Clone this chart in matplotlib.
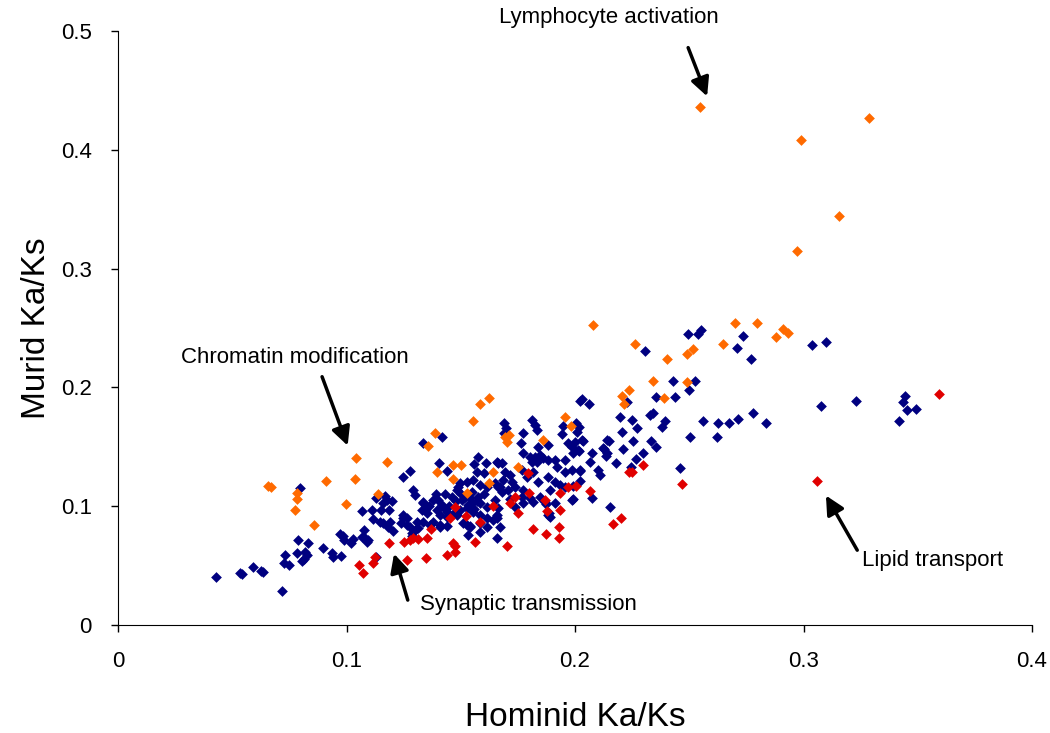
import matplotlib
matplotlib.use('Agg')
import matplotlib.pyplot as plt

plt.rcParams['font.family'] = ['Liberation Sans', 'DejaVu Sans']

# hominid / murid Ka/Ks
orange_x = [0.2547, 0.3288, 0.2989, 0.3157, 0.2973, 0.208, 0.27, 0.2798, 0.288, 0.2649,
            0.2492, 0.2515, 0.2912, 0.2934, 0.2263, 0.2401, 0.2343, 0.2492, 0.2391, 0.2236,
            0.2204, 0.2214, 0.1956, 0.1982, 0.1625, 0.1584, 0.1552, 0.1385, 0.1358, 0.104,
            0.1176, 0.0658, 0.0668, 0.091, 0.1036, 0.0785, 0.0785, 0.0773, 0.0996, 0.0858,
            0.1138, 0.1465, 0.150, 0.1397, 0.1465, 0.1625, 0.1526, 0.1694, 0.1713, 0.1702,
            0.1861, 0.1752, 0.1642]
orange_y = [0.4363, 0.427, 0.4083, 0.344, 0.3148, 0.2523, 0.2545, 0.2545, 0.2422, 0.2365,
            0.2281, 0.2321, 0.2492, 0.2455, 0.2363, 0.2237, 0.2056, 0.2048, 0.1908, 0.1978,
            0.1928, 0.186, 0.1748, 0.1675, 0.1908, 0.1858, 0.1717, 0.1613, 0.1507, 0.141,
            0.137, 0.117, 0.116, 0.121, 0.123, 0.111, 0.106, 0.0965, 0.102, 0.084,
            0.110, 0.1344, 0.1344, 0.129, 0.123, 0.1198, 0.1114, 0.1585, 0.160, 0.1543,
            0.1557, 0.1333, 0.129]

red_x = [0.3593, 0.306, 0.2467, 0.2296, 0.2248, 0.2238, 0.22, 0.2168, 0.2066, 0.2004,
         0.1971, 0.1934, 0.1934, 0.1876, 0.1869, 0.1931, 0.1931, 0.1871, 0.1815, 0.1704,
         0.1749, 0.1796, 0.18, 0.1737, 0.1716, 0.164, 0.1584, 0.1562, 0.1475, 0.1453,
         0.1522, 0.1467, 0.1475, 0.1438, 0.1475, 0.1368, 0.135, 0.1314, 0.1292, 0.1278,
         0.1252, 0.1185, 0.1263, 0.1346, 0.1125, 0.1114, 0.1056, 0.1072]
red_y = [0.1947, 0.121, 0.1187, 0.1344, 0.129, 0.1285, 0.0898, 0.085, 0.113, 0.117,
         0.1159, 0.1108, 0.0968, 0.0958, 0.1052, 0.0822, 0.073, 0.0764, 0.0806, 0.0665,
         0.094, 0.1277, 0.1108, 0.1074, 0.1024, 0.1002, 0.087, 0.0701, 0.0996, 0.0898,
         0.0918, 0.0688, 0.0617, 0.0589, 0.0665, 0.0806, 0.073, 0.0721, 0.073, 0.0716,
         0.0696, 0.0693, 0.055, 0.0561, 0.057, 0.052, 0.0505, 0.044]

blue_x = [0.0798, 0.1246, 0.1168, 0.1176, 0.1198, 0.1129, 0.1069, 0.1112, 0.1152, 0.1185,
          0.1114, 0.1147, 0.1161, 0.119, 0.1183, 0.1205, 0.1237, 0.1249, 0.1263, 0.1075,
          0.1066, 0.1096, 0.103, 0.0986, 0.0972, 0.1018, 0.099, 0.0789, 0.0833, 0.0896,
          0.0935, 0.0942, 0.0976, 0.0782, 0.0826, 0.0804, 0.0814, 0.0731, 0.0728, 0.0748,
          0.0592, 0.0534, 0.0543, 0.0626, 0.0636, 0.0428, 0.0719, 0.1129, 0.1292, 0.130,
          0.1249, 0.1263, 0.1278, 0.130, 0.1285, 0.1307, 0.1336, 0.1329, 0.135, 0.1336,
          0.1314, 0.0818, 0.1081, 0.1089, 0.1161, 0.1336, 0.1278, 0.1406, 0.1438, 0.1574,
          0.156, 0.1573, 0.1603, 0.161, 0.1497, 0.1526, 0.1555, 0.1584, 0.1614, 0.165,
          0.1664, 0.1336, 0.1344, 0.138, 0.1394, 0.1424, 0.1438, 0.138, 0.1409, 0.1482,
          0.146, 0.1504, 0.154, 0.1584, 0.1614, 0.1497, 0.1526, 0.1555, 0.1584, 0.1614,
          0.1643, 0.1511, 0.154, 0.1584, 0.1664, 0.1657, 0.1657, 0.1614, 0.1584, 0.1533,
          0.2022, 0.2063, 0.1949, 0.2004, 0.2019, 0.201, 0.1942, 0.1971, 0.2029, 0.2015,
          0.1993, 0.1689, 0.1698, 0.1689, 0.181, 0.1825, 0.1833, 0.1774, 0.1762, 0.1883,
          0.1839, 0.1771, 0.2139, 0.2124, 0.2139, 0.2073, 0.2066, 0.2102, 0.2109, 0.2153,
          0.1803, 0.1825, 0.1847, 0.1861, 0.1883, 0.1833, 0.181, 0.1912, 0.1956, 0.192,
          0.1956, 0.1986, 0.2022, 0.1883, 0.1839, 0.1788, 0.1766, 0.1817, 0.1912, 0.1934,
          0.1956, 0.189, 0.1986, 0.1657, 0.1679, 0.1694, 0.1716, 0.1686, 0.1722, 0.1737,
          0.1708, 0.1679, 0.1672, 0.165, 0.1774, 0.1766, 0.1803, 0.1847, 0.1883, 0.1657,
          0.1774, 0.2029, 0.1416, 0.2, 0.2034, 0.1985, 0.2019, 0.2073, 0.199, 0.1993,
          0.2022, 0.2022, 0.1888, 0.1873, 0.1737, 0.1716, 0.2428, 0.2525, 0.2499, 0.2438,
          0.2354, 0.2229, 0.2197, 0.2248, 0.2273, 0.2204, 0.215, 0.2252, 0.2127, 0.2209,
          0.2136, 0.2179, 0.2267, 0.2299, 0.2328, 0.2343, 0.2394, 0.2379, 0.2331, 0.2354,
          0.2562, 0.2503, 0.2459, 0.2243, 0.2496, 0.254, 0.255, 0.2734, 0.2707, 0.2769,
          0.2306, 0.2624, 0.2674, 0.2711, 0.278, 0.2835, 0.262, 0.3039, 0.3097, 0.3075,
          0.323, 0.3419, 0.3437, 0.3444, 0.3454, 0.3491, 0.1672, 0.1817, 0.1869, 0.1912,
          0.189, 0.1285, 0.1365, 0.1409, 0.1438, 0.1482, 0.1526, 0.154, 0.1547, 0.1577,
          0.1664, 0.140, 0.143, 0.145, 0.148, 0.150, 0.142, 0.139, 0.144, 0.147,
          0.152, 0.155, 0.157, 0.160, 0.156, 0.136, 0.141, 0.149, 0.153]
blue_y = [0.1156, 0.1246, 0.1086, 0.105, 0.1046, 0.1069, 0.0957, 0.097, 0.0968, 0.0965,
          0.089, 0.087, 0.0856, 0.087, 0.0828, 0.0794, 0.0856, 0.0898, 0.0842, 0.080,
          0.0744, 0.0716, 0.0721, 0.0749, 0.0766, 0.0688, 0.0716, 0.0718, 0.0688, 0.0648,
          0.0609, 0.057, 0.0583, 0.0609, 0.0589, 0.0541, 0.0553, 0.0589, 0.0524, 0.0505,
          0.0491, 0.0435, 0.0427, 0.0452, 0.0449, 0.0404, 0.0284, 0.0575, 0.1136, 0.1094,
          0.0926, 0.0898, 0.0828, 0.080, 0.0772, 0.087, 0.1024, 0.0968, 0.094, 0.087,
          0.0814, 0.0617, 0.073, 0.0701, 0.1024, 0.1535, 0.130, 0.136, 0.130, 0.1417,
          0.1355, 0.1288, 0.1282, 0.1366, 0.1193, 0.1206, 0.122, 0.1178, 0.1164, 0.1198,
          0.1164, 0.1038, 0.0968, 0.1052, 0.0968, 0.0996, 0.0912, 0.087, 0.0842, 0.1136,
          0.108, 0.1052, 0.1066, 0.1024, 0.0996, 0.0968, 0.0982, 0.0954, 0.0926, 0.0898,
          0.0884, 0.0856, 0.0828, 0.0856, 0.0982, 0.0898, 0.073, 0.0828, 0.0786, 0.0758,
          0.1888, 0.186, 0.1675, 0.1703, 0.1664, 0.1627, 0.1608, 0.153, 0.1557, 0.1473,
          0.1445, 0.1703, 0.1656, 0.1613, 0.1726, 0.1684, 0.1641, 0.1619, 0.1535, 0.1515,
          0.1501, 0.1445, 0.1557, 0.1487, 0.1445, 0.1445, 0.1375, 0.1305, 0.1263, 0.0996,
          0.1417, 0.1417, 0.1431, 0.1403, 0.1389, 0.1375, 0.1375, 0.1389, 0.1389, 0.1333,
          0.129, 0.1305, 0.1305, 0.1248, 0.1206, 0.1248, 0.1305, 0.129, 0.1206, 0.1178,
          0.1164, 0.1136, 0.1052, 0.1375, 0.136, 0.129, 0.1263, 0.122, 0.1206, 0.1164,
          0.1136, 0.1122, 0.1164, 0.1052, 0.1136, 0.108, 0.1066, 0.108, 0.0926, 0.0926,
          0.1024, 0.19, 0.1585, 0.1543, 0.1549, 0.1501, 0.1467, 0.1066, 0.1058, 0.117,
          0.1215, 0.13, 0.0946, 0.1016, 0.099, 0.1058, 0.2056, 0.2056, 0.1978, 0.1917,
          0.1922, 0.188, 0.1753, 0.1726, 0.1661, 0.1627, 0.1549, 0.1552, 0.1479, 0.1482,
          0.1423, 0.1366, 0.1395, 0.1451, 0.1768, 0.1782, 0.172, 0.167, 0.1552, 0.1496,
          0.172, 0.1585, 0.1324, 0.1327, 0.2449, 0.2449, 0.2483, 0.2433, 0.2329, 0.2239,
          0.2306, 0.1699, 0.1699, 0.1737, 0.1787, 0.1703, 0.1585, 0.2357, 0.2385, 0.1846,
          0.1883, 0.172, 0.188, 0.1931, 0.1812, 0.1821, 0.0822, 0.1038, 0.1038, 0.103,
          0.0912, 0.0746, 0.0842, 0.0828, 0.0833, 0.0926, 0.0842, 0.0833, 0.1024, 0.108,
          0.1366, 0.105, 0.110, 0.100, 0.104, 0.110, 0.101, 0.110, 0.095, 0.094,
          0.108, 0.112, 0.104, 0.110, 0.098, 0.100, 0.093, 0.116, 0.101]

x_ticks = [0, 0.1, 0.2, 0.3, 0.4]
x_tick_labels = ['0', '0.1', '0.2', '0.3', '0.4']
y_ticks = [0, 0.1, 0.2, 0.3, 0.4, 0.5]
y_tick_labels = ['0', '0.1', '0.2', '0.3', '0.4', '0.5']

fig = plt.figure(figsize=(10.5, 7.33), dpi=100)
ax = fig.add_axes([0.1124, 0.1473, 0.8705, 0.8104])

ax.scatter(blue_x, blue_y, marker='D', s=30, color='#000080', linewidths=0, zorder=3)
ax.scatter(red_x, red_y, marker='D', s=30, color='#E00000', linewidths=0, zorder=4)
ax.scatter(orange_x, orange_y, marker='D', s=30, color='#FF6A00', linewidths=0, zorder=4)

ax.set_xlim(0, 0.4)
ax.set_ylim(0, 0.5)
ax.set_xticks(x_ticks)
ax.set_xticklabels(x_tick_labels)
ax.set_yticks(y_ticks)
ax.set_yticklabels(y_tick_labels)
ax.tick_params(labelsize=16, length=5, width=1, pad=14)
ax.spines['top'].set_visible(False)
ax.spines['right'].set_visible(False)

ax.set_xlabel('Hominid Ka/Ks', fontsize=24, labelpad=21)
ax.set_ylabel('Murid Ka/Ks', fontsize=24, labelpad=6)

arrow = dict(arrowstyle='-|>', lw=2.5, color='black', mutation_scale=28, shrinkA=0, shrinkB=0)
ax.text(0.2149, 0.511, 'Lymphocyte activation', ha='center', va='center', fontsize=16, clip_on=False)
ax.annotate('', xy=(0.2578, 0.445), xytext=(0.2495, 0.486), arrowprops=arrow, annotation_clip=False)
ax.text(0.0775, 0.2256, 'Chromatin modification', ha='center', va='center', fontsize=16)
ax.annotate('', xy=(0.1005, 0.151), xytext=(0.0893, 0.209), arrowprops=arrow)
ax.text(0.3256, 0.0539, 'Lipid transport', ha='left', va='center', fontsize=16)
ax.annotate('', xy=(0.3098, 0.109), xytext=(0.3235, 0.063), arrowprops=arrow)
ax.text(0.1322, 0.0177, 'Synaptic transmission', ha='left', va='center', fontsize=16)
ax.annotate('', xy=(0.1208, 0.06), xytext=(0.1268, 0.021), arrowprops=arrow)

fig.savefig('out.png', dpi=100)
